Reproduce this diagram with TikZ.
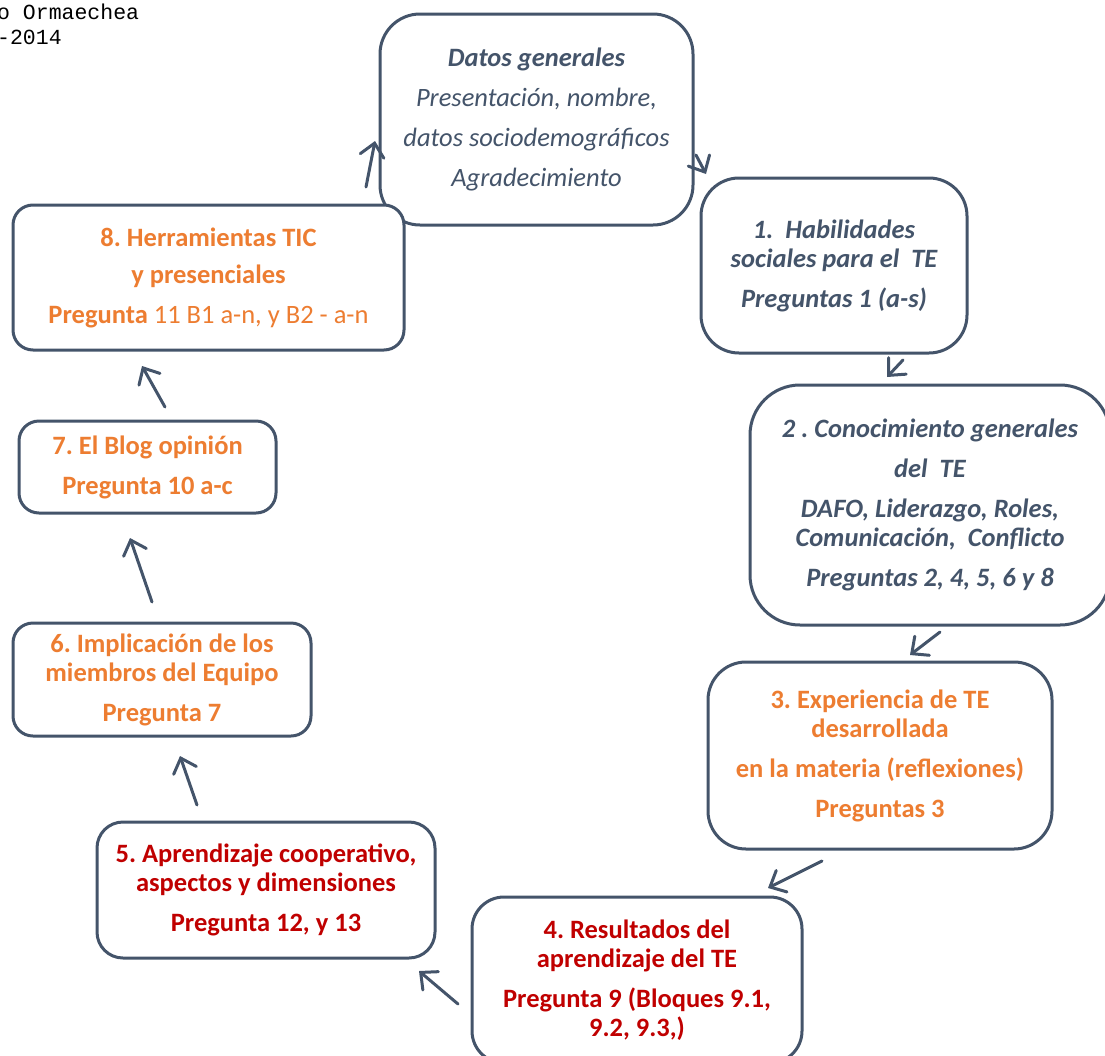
\documentclass[tikz,border=0pt]{standalone}
\usepackage{fontspec}
\setmainfont{Carlito}
\setmonofont{Liberation Mono}
\usetikzlibrary{arrows.meta}
\definecolor{slate}{HTML}{44546A}
\definecolor{orng}{HTML}{ED7D31}
\definecolor{dred}{HTML}{C00000}
\tikzset{
  card/.style={draw=slate, line width=3pt, rounded corners=#1, fill=white,
    align=center, inner sep=0pt, rectangle},
  cardfont/.style={font=\fontsize{26.5}{29}\selectfont\frenchspacing\bfseries},
  cardit/.style={font=\fontsize{26.5}{29}\selectfont\frenchspacing\bfseries\itshape},
  cardplain/.style={font=\fontsize{26.5}{29}\selectfont\frenchspacing\itshape},
  arr/.style={draw=slate, line width=3pt, line cap=round,
    -{Straight Barb[length=13pt,width=24pt,line cap=round]}},
  note/.style={font=\fontsize{21.5}{25}\selectfont\ttfamily, anchor=base west,
    inner sep=0pt, text=black},
}
\newcommand{\gap}{\\[11pt]}
\begin{document}
\begin{tikzpicture}[x=1pt,y=-1pt]
\useasboundingbox (0,0) rectangle (1105,1055);
\clip (0,0) rectangle (1105,1055);

% author note, top left
\node[note] (n1) at (-3,19) {o Ormaechea};
\node[note] (n2) at (-3,44) {-2014};

% boxes of the cycle
\node[card=40, minimum width=313, minimum height=211, text=slate, cardplain] (b0) at (536.5,119.5)
  {\textbf{Datos generales}\gap Presentación, nombre,\gap
   datos sociodemográficos\gap Agradecimiento};

\node[card=20, minimum width=391, minimum height=145, text=orng, cardfont] (b8) at (208.5,277.5)
  {8. Herramientas TIC\\[8pt] y presenciales\gap Pregunta \mdseries 11 B1 a-n, y B2 - a-n};

\node[card=38, minimum width=266, minimum height=175, text=slate, cardit] (b1) at (834,265.5)
  {1.\ \ Habilidades\\ sociales para el\ \ TE\gap Preguntas 1 (a-s)};

\node[card=50, minimum width=360, minimum height=240, text=slate, cardit] (b2) at (930,505)
  {2 . Conocimiento generales\gap del\ \ TE\gap DAFO, Liderazgo, Roles,\\
   Comunicación,\ \ Conflicto\gap Preguntas 2, 4, 5, 6 y 8};

\node[card=38, minimum width=344, minimum height=187, text=orng, cardfont] (b3) at (880,755.5)
  {3. Experiencia de TE\\ desarrollada\gap en la materia (reflexiones)\gap Preguntas 3};

\node[card=32, minimum width=330, minimum height=166, text=dred, cardfont] (b4) at (637,980)
  {4. Resultados del\\ aprendizaje del TE\gap Pregunta 9 (Bloques 9.1,\\ 9.2, 9.3,)};

\node[card=26, minimum width=338, minimum height=136, text=dred, cardfont] (b5) at (266,890)
  {5. Aprendizaje cooperativo,\\ aspectos y dimensiones\gap Pregunta 12, y 13};

\node[card=20, minimum width=298, minimum height=113, text=orng, cardfont] (b6) at (162,679.5)
  {6. Implicación de los\\ miembros del Equipo\gap Pregunta 7};

\node[card=20, minimum width=257, minimum height=92, text=orng, cardfont] (b7) at (147.5,467)
  {7. El Blog opinión\gap Pregunta 10 a-c};

% arrow ends between the boxes
\coordinate (t80) at (366,187);  \coordinate (h80) at (375,141);
\coordinate (t01) at (696,155);  \coordinate (h01) at (706,174);
\coordinate (t12) at (903,360);  \coordinate (h12) at (887,377);
\coordinate (t23) at (940,632);  \coordinate (h23) at (910,655);
\coordinate (t34) at (822,861);  \coordinate (h34) at (768,888);
\coordinate (t45) at (458,1004); \coordinate (h45) at (419,971);
\coordinate (t56) at (197,805);  \coordinate (h56) at (180,756);
\coordinate (t67) at (152,602);  \coordinate (h67) at (130,538);
\coordinate (t78) at (165,407);  \coordinate (h78) at (142,366);

\draw[arr] (t80) -- (h80);
\draw[arr] (t01) -- (h01);
\draw[arr] (t12) -- (h12);
\draw[arr] (t23) -- (h23);
\draw[arr] (t34) -- (h34);
\draw[arr] (t45) -- (h45);
\draw[arr] (t56) -- (h56);
\draw[arr] (t67) -- (h67);
\draw[arr] (t78) -- (h78);
\end{tikzpicture}
\end{document}
